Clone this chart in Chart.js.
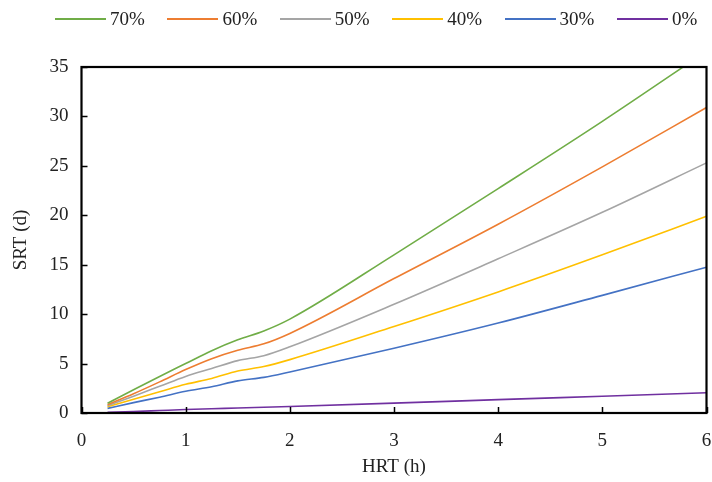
<!DOCTYPE html>
<html>
<head>
<meta charset="utf-8">
<script src="https://cdn.jsdelivr.net/npm/chart.js@4.4.1/dist/chart.umd.min.js"></script>
<style>
  html, body { margin: 0; padding: 0; background: #fff; }
  #wrap { position: relative; width: 712px; height: 482px; overflow: hidden; }
  #legend { position: absolute; left: 55px; top: 8px; display: flex; font-family: "Liberation Serif", "Times New Roman", serif; font-size: 19px; color: #222; }
  .item { display: flex; align-items: center; width: 112.4px; height: 22px; }
  .swatch { width: 51px; height: 2px; margin-right: 4px; }
  canvas { position: absolute; left: 0; top: 0; }
</style>
</head>
<body>
<div id="wrap">
  <canvas id="c" width="712" height="482"></canvas>
  <div id="legend"></div>
</div>
<script>
// ---- data ----
const hrt = [0.25, 0.5, 0.75, 1, 1.25, 1.5, 1.75, 2, 3, 4, 5, 6];
const srt70 = [0.98, 2.35, 3.7, 5.0, 6.3, 7.4, 8.3, 9.5, 16.0, 22.7, 29.5, 36.6];
const srt60 = [0.84, 1.95, 3.15, 4.4, 5.5, 6.35, 7.0, 8.05, 13.6, 19.1, 24.9, 30.9];
const srt50 = [0.74, 1.7, 2.7, 3.7, 4.5, 5.3, 5.8, 6.7, 11.0, 15.6, 20.3, 25.3];
const srt40 = [0.64, 1.4, 2.15, 2.9, 3.5, 4.25, 4.7, 5.4, 8.75, 12.25, 16.0, 19.9];
const srt30 = [0.47, 1.05, 1.6, 2.2, 2.65, 3.25, 3.6, 4.15, 6.55, 9.1, 11.9, 14.75];
const srt0  = [0.07, 0.15, 0.25, 0.35, 0.43, 0.5, 0.58, 0.66, 1.0, 1.35, 1.7, 2.05];
const seriesLabels = ['70%', '60%', '50%', '40%', '30%', '0%'];
const xTicks = [0, 1, 2, 3, 4, 5, 6];
const yTicks = [0, 5, 10, 15, 20, 25, 30, 35];
const xTitle = 'HRT (h)';
const yTitle = 'SRT (d)';

// ---- styles ----
const seriesColors = ['#70AD47', '#ED7D31', '#A5A5A5', '#FFC000', '#4472C4', '#7030A0'];
const FONT = '"Liberation Serif", "Times New Roman", serif';

const seriesValues = [srt70, srt60, srt50, srt40, srt30, srt0];
const datasets = seriesValues.map((vals, i) => ({
  label: seriesLabels[i],
  data: hrt.map((x, j) => ({ x: x, y: vals[j] })),
  borderColor: seriesColors[i],
  backgroundColor: seriesColors[i],
  borderWidth: 1.6,
  pointRadius: 0,
  fill: false,
  cubicInterpolationMode: 'monotone'
}));

// HTML legend built from the series
const leg = document.getElementById('legend');
seriesLabels.forEach((lab, i) => {
  const it = document.createElement('div');
  it.className = 'item';
  const sw = document.createElement('span');
  sw.className = 'swatch';
  sw.style.background = seriesColors[i];
  const tx = document.createElement('span');
  tx.textContent = lab;
  it.appendChild(sw); it.appendChild(tx);
  leg.appendChild(it);
});

const frameTicks = {
  id: 'frameTicks',
  afterDraw(chart) {
    const { ctx, chartArea: a, scales } = chart;
    ctx.save();
    ctx.strokeStyle = '#000';
    ctx.lineWidth = 1.5;
    ctx.beginPath();
    yTicks.forEach(v => {
      const y = Math.round(scales.y.getPixelForValue(v)) + 0.5;
      ctx.moveTo(a.left, y); ctx.lineTo(a.left + 6, y);
    });
    xTicks.forEach(v => {
      const x = Math.round(scales.x.getPixelForValue(v)) + 0.5;
      ctx.moveTo(x, a.bottom); ctx.lineTo(x, a.bottom - 6);
    });
    ctx.stroke();
    ctx.lineWidth = 2.2;
    ctx.strokeRect(a.left, a.top, a.right - a.left, a.bottom - a.top);
    ctx.restore();
  }
};

new Chart(document.getElementById('c'), {
  type: 'line',
  data: { datasets },
  options: {
    responsive: false,
    animation: false,
    devicePixelRatio: 1,
    layout: { padding: { top: 67, right: 5.5, bottom: 0, left: 0 } },
    plugins: { legend: { display: false }, tooltip: { enabled: false } },
    scales: {
      x: {
        type: 'linear', min: 0, max: 6,
        afterBuildTicks: s => { s.ticks = xTicks.map(v => ({ value: v })); },
        afterFit: s => { s.height = 69; s.paddingLeft = 0; s.paddingRight = 0; },
        grid: { display: false, drawTicks: false },
        border: { display: false },
        ticks: { padding: 17, color: '#222', font: { family: FONT, size: 19 }, maxRotation: 0 },
        title: { display: true, text: xTitle, color: '#222', font: { family: FONT, size: 19 }, padding: { top: 0, bottom: 4 } }
      },
      y: {
        type: 'linear', min: 0, max: 35,
        afterBuildTicks: s => { s.ticks = yTicks.map(v => ({ value: v })); },
        afterFit: s => { s.width = 81.5; s.paddingTop = 0; s.paddingBottom = 0; },
        grid: { display: false, drawTicks: false },
        border: { display: false },
        ticks: { padding: 13, color: '#222', font: { family: FONT, size: 19 } },
        title: { display: true, text: yTitle, color: '#222', font: { family: FONT, size: 19 }, padding: { top: 10, bottom: 0 } }
      }
    }
  },
  plugins: [frameTicks]
});
</script>
</body>
</html>
